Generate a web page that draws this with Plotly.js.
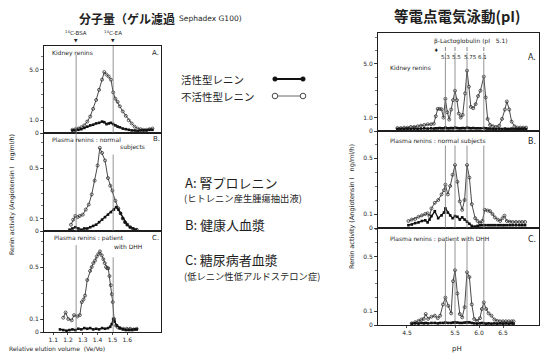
<!DOCTYPE html>
<html><head><meta charset="utf-8">
<script src="https://cdn.plot.ly/plotly-3.0.1.min.js"></script>
<style>html,body{margin:0;padding:0;background:#fff;}#chart{width:543px;height:356px;}</style>
</head><body><div id="chart"></div>
<script>
// ---------- DATA ----------
// Left: gel filtration, relative elution volume (Ve/Vo)
const leftA_x = [1.23,1.25,1.27,1.29,1.31,1.33,1.35,1.37,1.39,1.41,1.43,1.445,1.46,1.475,1.49,1.505,1.52,1.535,1.55,1.57,1.59,1.61,1.63,1.65,1.67,1.69,1.71,1.73,1.75,1.77];
const leftA_inactive = [0.25,0.3,0.35,0.45,0.6,0.9,1.3,1.9,2.6,3.4,4.2,4.8,4.6,4.45,4.2,3.2,2.7,2.45,2.1,1.7,1.35,1.0,0.75,0.5,0.35,0.3,0.25,0.25,0.3,0.35];
const leftA_active = [0.2,0.2,0.25,0.3,0.4,0.5,0.6,0.65,0.75,0.8,0.9,0.85,0.7,0.75,0.8,0.7,0.6,0.5,0.45,0.35,0.3,0.25,0.2,0.2,0.15,0.2,0.2,0.2,0.25,0.25];

const leftB_inactive_x = [1.22,1.235,1.25,1.265,1.28,1.30,1.32,1.34,1.36,1.38,1.40,1.415,1.43,1.45,1.47,1.485,1.50,1.52,1.54,1.555,1.57,1.585,1.60,1.62,1.64,1.665];
const leftB_inactive = [0.05,0.09,0.12,0.11,0.12,0.13,0.17,0.21,0.29,0.40,0.52,0.66,0.62,0.56,0.42,0.36,0.32,0.24,0.18,0.14,0.10,0.07,0.05,0.03,0.015,0.01];
const leftB_active_x = [1.21,1.23,1.25,1.27,1.29,1.31,1.33,1.35,1.37,1.39,1.41,1.43,1.45,1.47,1.49,1.51,1.525,1.54,1.555,1.57,1.585,1.60,1.62,1.64,1.66];
const leftB_active = [0.01,0.02,0.03,0.02,0.01,0.02,0.02,0.03,0.04,0.05,0.07,0.09,0.11,0.13,0.15,0.17,0.19,0.17,0.14,0.10,0.07,0.05,0.03,0.02,0.01];

const leftC_inactive_x = [1.168,1.184,1.202,1.225,1.241,1.263,1.28,1.293,1.305,1.315,1.33,1.349,1.36,1.371,1.383,1.394,1.405,1.416,1.428,1.439,1.448,1.457,1.465,1.472,1.48,1.489,1.496,1.502,1.511,1.524,1.537,1.551,1.574,1.597,1.62,1.643,1.664];
const leftC_inactive = [0.11,0.15,0.10,0.09,0.13,0.12,0.13,0.23,0.25,0.28,0.40,0.47,0.50,0.53,0.55,0.58,0.60,0.62,0.59,0.56,0.53,0.50,0.49,0.49,0.43,0.36,0.29,0.23,0.10,0.05,0.035,0.03,0.025,0.025,0.025,0.02,0.025];
const leftC_active_x = [1.146,1.168,1.19,1.21,1.23,1.25,1.27,1.29,1.31,1.33,1.35,1.37,1.39,1.41,1.43,1.45,1.47,1.485,1.495,1.505,1.515,1.53,1.55,1.57,1.59,1.61,1.63,1.65,1.664];
const leftC_active = [0.02,0.015,0.01,0.015,0.02,0.015,0.025,0.02,0.03,0.025,0.03,0.02,0.025,0.02,0.03,0.025,0.03,0.04,0.06,0.10,0.08,0.05,0.03,0.02,0.015,0.015,0.015,0.02,0.02];

const markerVe = [1.255, 1.505];            // 14C-BSA, 14C-EA
const markerVeLabels = ['<sup>14</sup>C-BSA', '<sup>14</sup>C-EA'];
const leftXTicks = [1.1,1.2,1.3,1.4,1.5,1.6];

// Right: isoelectric focusing, pH
const rightA_x = [4.30,4.37,4.44,4.51,4.58,4.65,4.72,4.79,4.86,4.93,5.00,5.06,5.10,5.14,5.18,5.22,5.26,5.30,5.34,5.38,5.42,5.46,5.50,5.54,5.58,5.62,5.66,5.71,5.75,5.79,5.83,5.88,5.93,5.98,6.03,6.10,6.14,6.18,6.23,6.29,6.35,6.42,6.48,6.54,6.58,6.63,6.68,6.74,6.80,6.86,6.92,6.98];
const rightA_inactive = [0.22,0.22,0.25,0.25,0.3,0.3,0.35,0.4,0.45,0.5,0.5,0.55,1.1,1.65,1.65,1.62,1.0,2.4,1.4,0.85,1.6,2.3,3.0,2.3,1.3,1.0,1.2,2.8,4.5,3.3,1.8,1.7,2.0,2.6,3.0,4.05,2.5,0.9,0.45,0.35,0.3,0.4,0.9,1.6,2.2,1.6,0.7,0.35,0.25,0.25,0.25,0.25];
const rightA_active = [0.15,0.15,0.15,0.18,0.15,0.18,0.15,0.18,0.2,0.18,0.2,0.18,0.2,0.2,0.22,0.2,0.2,0.25,0.2,0.2,0.22,0.2,0.25,0.22,0.2,0.2,0.22,0.2,0.25,0.22,0.2,0.22,0.2,0.2,0.2,0.22,0.2,0.18,0.18,0.15,0.15,0.18,0.15,0.18,0.15,0.15,0.18,0.15,0.15,0.15,0.15,0.15];

const rightB_x = [4.53,4.60,4.67,4.74,4.81,4.88,4.93,4.97,5.01,5.08,5.15,5.22,5.27,5.30,5.35,5.40,5.45,5.50,5.55,5.60,5.65,5.70,5.75,5.80,5.85,5.92,5.97,6.02,6.07,6.12,6.18,6.23,6.28,6.33,6.39,6.44,6.49,6.53,6.58,6.64,6.70,6.77,6.84,6.90,6.96];
const rightB_inactive = [0.05,0.06,0.065,0.08,0.09,0.10,0.105,0.085,0.14,0.18,0.20,0.24,0.27,0.31,0.24,0.30,0.38,0.45,0.33,0.19,0.13,0.20,0.45,0.36,0.17,0.07,0.05,0.036,0.05,0.13,0.125,0.12,0.10,0.076,0.06,0.05,0.07,0.088,0.05,0.045,0.043,0.043,0.043,0.043,0.043];
const rightB_active = [0.02,0.025,0.035,0.04,0.05,0.055,0.04,0.06,0.085,0.12,0.07,0.09,0.11,0.14,0.11,0.09,0.07,0.085,0.08,0.06,0.076,0.06,0.045,0.03,0.015,0.01,0.015,0.02,0.02,0.02,0.02,0.02,0.02,0.02,0.02,0.02,0.02,0.02,0.02,0.02,0.02,0.02,0.02,0.02,0.02];

const rightC_x = [4.60,4.67,4.74,4.80,4.85,4.89,4.94,5.01,5.08,5.14,5.19,5.25,5.30,5.36,5.42,5.46,5.50,5.55,5.60,5.65,5.70,5.75,5.80,5.85,5.90,5.96,6.02,6.06,6.10,6.15,6.20,6.26,6.32,6.38,6.44,6.50,6.56,6.62,6.68,6.72];
const rightC_inactive = [0.012,0.02,0.03,0.04,0.045,0.08,0.045,0.06,0.068,0.05,0.068,0.15,0.20,0.14,0.085,0.32,0.40,0.23,0.08,0.056,0.13,0.385,0.35,0.15,0.044,0.03,0.05,0.117,0.165,0.117,0.085,0.068,0.04,0.03,0.027,0.027,0.027,0.027,0.027,0.027];
const rightC_active = [0.01,0.012,0.01,0.015,0.012,0.015,0.012,0.015,0.015,0.012,0.015,0.015,0.018,0.015,0.015,0.018,0.02,0.018,0.015,0.015,0.018,0.02,0.02,0.015,0.012,0.01,0.012,0.015,0.012,0.01,0.012,0.01,0.012,0.01,0.012,0.01,0.012,0.01,0.012,0.01];

const pIMarkers = [5.3, 5.5, 5.75, 6.1];
const pILabels = ['5.3', '5.5', '5.75', '6.1'];
const betaLgPI = 5.1;
const rightXTicks = [4.5, 5.5, 6.0, 6.5];
const rightXTickText = ['4.5', '5.5', '6.0', '6.5'];

// ---------- LAYOUT HELPERS ----------
const W = 543, H = 356;
const fx = p => p / W;
const fy = p => 1 - p / H;
const JP = 'Noto Sans CJK JP';
const LAT = 'DejaVu Sans';
const INK = '#1e1e1e';

function inactive(x, y, xa, ya) {
  return {x, y, xaxis: xa, yaxis: ya, type: 'scatter', mode: 'lines+markers', showlegend: false, hoverinfo: 'skip',
    line: {color: '#4a4a4a', width: 1}, marker: {symbol: 'circle-open', size: 3, color: '#333', line: {width: 0.8}}};
}
function active(x, y, xa, ya) {
  return {x, y, xaxis: xa, yaxis: ya, type: 'scatter', mode: 'lines+markers', showlegend: false, hoverinfo: 'skip',
    line: {color: '#111', width: 1.3}, marker: {symbol: 'square', size: 2.6, color: '#111'}};
}

const traces = [
  inactive(leftA_x, leftA_inactive, 'x', 'y'), active(leftA_x, leftA_active, 'x', 'y'),
  inactive(leftB_inactive_x, leftB_inactive, 'x2', 'y2'), active(leftB_active_x, leftB_active, 'x2', 'y2'),
  inactive(leftC_inactive_x, leftC_inactive, 'x3', 'y3'), active(leftC_active_x, leftC_active, 'x3', 'y3'),
  inactive(rightA_x, rightA_inactive, 'x4', 'y4'), active(rightA_x, rightA_active, 'x4', 'y4'),
  inactive(rightB_x, rightB_inactive, 'x5', 'y5'), active(rightB_x, rightB_active, 'x5', 'y5'),
  inactive(rightC_x, rightC_inactive, 'x6', 'y6'), active(rightC_x, rightC_active, 'x6', 'y6')
];

const tickFont = {family: LAT, size: 6, color: INK};
function xAx(domain, range, anchor, tickvals, ticktext) {
  const a = {domain, range, anchor, showline: true, mirror: true, linecolor: INK, linewidth: 1, showgrid: false, zeroline: false, fixedrange: true};
  if (tickvals) {
    Object.assign(a, {tickmode: 'array', tickvals, ticktext: ticktext || tickvals.map(v => v.toFixed(1)), ticks: 'outside', ticklen: 2, tickwidth: 0.8, tickcolor: INK, tickfont: tickFont, showticklabels: true});
  } else {
    Object.assign(a, {showticklabels: false, ticks: ''});
  }
  return a;
}
function yAx(domain, range, anchor, tickvals, ticktext, minorStep) {
  return {domain, range, anchor, showline: true, mirror: true, linecolor: INK, linewidth: 1, showgrid: false, zeroline: false, fixedrange: true,
    tickmode: 'array', tickvals, ticktext, ticks: 'outside', ticklen: 3, tickwidth: 0.8, tickcolor: INK, tickfont: tickFont,
    minor: {tickmode: 'linear', tick0: 0, dtick: minorStep, ticks: 'outside', ticklen: 2, tickcolor: INK, tickwidth: 0.6}};
}

const LX = [fx(44), fx(161)], RX = [fx(378), fx(539)];
const leftRange = [1.038, 1.828], rightRange = [3.896, 7.25];

const layout = {
  width: W, height: H, margin: {l: 0, r: 0, t: 0, b: 0},
  paper_bgcolor: '#fff', plot_bgcolor: '#fff', showlegend: false,
  xaxis: xAx(LX, leftRange, 'y'),
  xaxis2: xAx(LX, leftRange, 'y2'),
  xaxis3: xAx(LX, leftRange, 'y3', leftXTicks),
  xaxis4: xAx(RX, rightRange, 'y4'),
  xaxis5: xAx(RX, rightRange, 'y5'),
  xaxis6: xAx(RX, rightRange, 'y6', rightXTicks, rightXTickText),
  yaxis: yAx([fy(133), fy(46)], [0, 6.85], 'x', [0, 1, 5], ['0', '1.0', '5.0'], 1),
  yaxis2: yAx([fy(231), fy(133)], [0, 0.778], 'x2', [0, 0.1, 0.5], ['0', '0.1', '0.5'], 0.1),
  yaxis3: yAx([fy(332), fy(231)], [0, 0.777], 'x3', [0, 0.1, 0.5], ['0', '0.1', '0.5'], 0.1),
  yaxis4: yAx([fy(131), fy(33)], [0, 7.3], 'x4', [0, 1, 5], ['0', '1.0', '5.0'], 1),
  yaxis5: yAx([fy(228), fy(131)], [0, 0.693], 'x5', [0, 0.1, 0.5], ['0', '0.1', '0.5'], 0.1),
  yaxis6: yAx([fy(325), fy(228)], [0, 0.708], 'x6', [0, 0.1, 0.5], ['0', '0.1', '0.5'], 0.1),
  shapes: [], annotations: []
};

// marker lines
const vl = (x, xref, yref, top) => ({type: 'line', xref, yref: yref + ' domain', x0: x, x1: x, y0: 0, y1: top, line: {color: '#7a7a7a', width: 0.8}});
const leftTops = [[0.9, 1.0], [1.0, 0.78], [0.86, 0.74]];
['x', 'x2', 'x3'].forEach((xa, i) => {
  const ya = 'y' + (i === 0 ? '' : i + 1);
  markerVe.forEach((v, j) => layout.shapes.push(vl(v, xa, ya, leftTops[i][j])));
});
const rightTops = [0.8, 0.85, 0.87];
['x4', 'x5', 'x6'].forEach((xa, i) => {
  pIMarkers.forEach(v => layout.shapes.push(vl(v, xa, 'y' + (i + 4), rightTops[i])));
});
pIMarkers.forEach(v => layout.shapes.push({type: 'line', xref: 'x4', yref: 'paper', x0: v, x1: v, y0: fy(51), y1: fy(47), line: {color: '#555', width: 0.7}}));

// legend samples
layout.shapes.push({type: 'line', xref: 'paper', yref: 'paper', x0: fx(275), x1: fx(303), y0: fy(79), y1: fy(79), line: {color: '#111', width: 2}});
layout.shapes.push({type: 'line', xref: 'paper', yref: 'paper', x0: fx(275), x1: fx(303), y0: fy(96), y1: fy(96), line: {color: '#444', width: 0.8}});
[275, 303].forEach(p => {
  layout.shapes.push({type: 'circle', xref: 'paper', yref: 'paper', x0: fx(p - 2.3), x1: fx(p + 2.3), y0: fy(79 + 2.3), y1: fy(79 - 2.3), fillcolor: '#111', line: {color: '#111', width: 0.5}});
  layout.shapes.push({type: 'circle', xref: 'paper', yref: 'paper', x0: fx(p - 2.8), x1: fx(p + 2.8), y0: fy(96 + 2.8), y1: fy(96 - 2.8), fillcolor: '#fff', line: {color: '#333', width: 0.9}});
});

function ann(text, px, py, size, opts) {
  return Object.assign({text, x: fx(px), y: fy(py), xref: 'paper', yref: 'paper', showarrow: false, xanchor: 'left', yanchor: 'middle',
    font: {family: LAT, size, color: INK}}, opts || {});
}
const A = layout.annotations;
// titles
A.push(ann('<b>分子量（ゲル濾過</b>', 77, 18, 12, {font: {family: JP, size: 12, color: INK}}));
A.push(ann('Sephadex G100)', 177, 19, 7.5));
A.push(ann('<b>等電点電気泳動(pI)</b>', 457, 15, 14.5, {xanchor: 'center', font: {family: JP, size: 14.5, color: INK}}));
// legend texts
A.push(ann('活性型レニン', 179, 79, 10.5, {font: {family: JP, size: 10.5, color: INK}}));
A.push(ann('不活性型レニン', 179, 96, 10.5, {font: {family: JP, size: 10.5, color: INK}}));
// descriptions
const jp = (t, px, py, s) => ann(t, px, py, s, {font: {family: JP, size: s, color: INK}});
A.push(jp('A: 腎プロレニン', 183, 182, 13));
A.push(jp('(ヒトレニン産生腫瘍抽出液)', 182, 198, 9.3));
A.push(jp('B: 健康人血漿', 183, 224, 13));
A.push(jp('C: 糖尿病者血漿', 183, 259, 13));
A.push(jp('(低レニン性低アルドステロン症)', 182, 276, 9.3));
// left panel labels
A.push(ann('Kidney renins', 50, 53, 6));
A.push(ann('A.', 150, 53, 7));
A.push(ann('Plasma renins : normal', 50, 139, 6));
A.push(ann('subjects', 118, 147, 6));
A.push(ann('B.', 151, 139, 7));
A.push(ann('Plasma renins : patient', 52, 238, 6));
A.push(ann('with DHH', 112, 246, 6));
A.push(ann('C.', 150, 238, 7));
markerVe.forEach((v, j) => {
  A.push({text: markerVeLabels[j], x: v, xref: 'x', y: fy(32), yref: 'paper', showarrow: false, xanchor: 'center', yanchor: 'middle', font: {family: LAT, size: 5.5, color: INK}});
  A.push({text: '▼', x: v, xref: 'x', y: fy(40), yref: 'paper', showarrow: false, xanchor: 'center', yanchor: 'middle', font: {family: LAT, size: 4.5, color: INK}});
});
A.push(ann('Renin activity (Angiotensin I\u00a0\u00a0\u00a0ng/ml/h)', 12, 195, 6.3, {xanchor: 'center', textangle: -90}));
A.push(ann('Relative elution volume\u00a0\u00a0(Ve/Vo)', 57, 348, 6, {xanchor: 'center'}));
// right panel labels
A.push(ann('β-Lactoglobulin (pI\u00a0\u00a0\u00a05.1)', 471, 41, 6, {xanchor: 'center'}));
A.push({text: '♦', x: betaLgPI, xref: 'x4', y: fy(50), yref: 'paper', showarrow: false, xanchor: 'center', yanchor: 'middle', font: {family: LAT, size: 5, color: INK}});
const pIShift = [0, 1.5, 3, -1];
pIMarkers.forEach((v, j) => A.push({text: pILabels[j], x: v, xref: 'x4', xshift: pIShift[j], y: fy(57), yref: 'paper', showarrow: false, xanchor: 'center', yanchor: 'middle', font: {family: LAT, size: 5.5, color: INK}}));
A.push(ann('Kidney renins', 388, 68, 6));
A.push(ann('A.', 526, 57, 8));
A.push(ann('Plasma renins : normal subjects', 388, 141, 6));
A.push(ann('B.', 526, 141, 8));
A.push(ann('Plasma renins : patient with DHH', 388, 239, 6));
A.push(ann('C.', 526, 239, 8));
A.push(ann('Renin activity (Angiotensin I\u00a0\u00a0\u00a0ng/ml/h)', 352, 207, 6.5, {xanchor: 'center', textangle: -90}));
A.push(ann('pH', 457, 349, 7, {xanchor: 'center'}));

Plotly.newPlot('chart', traces, layout, {staticPlot: true, displayModeBar: false});
</script></body></html>
